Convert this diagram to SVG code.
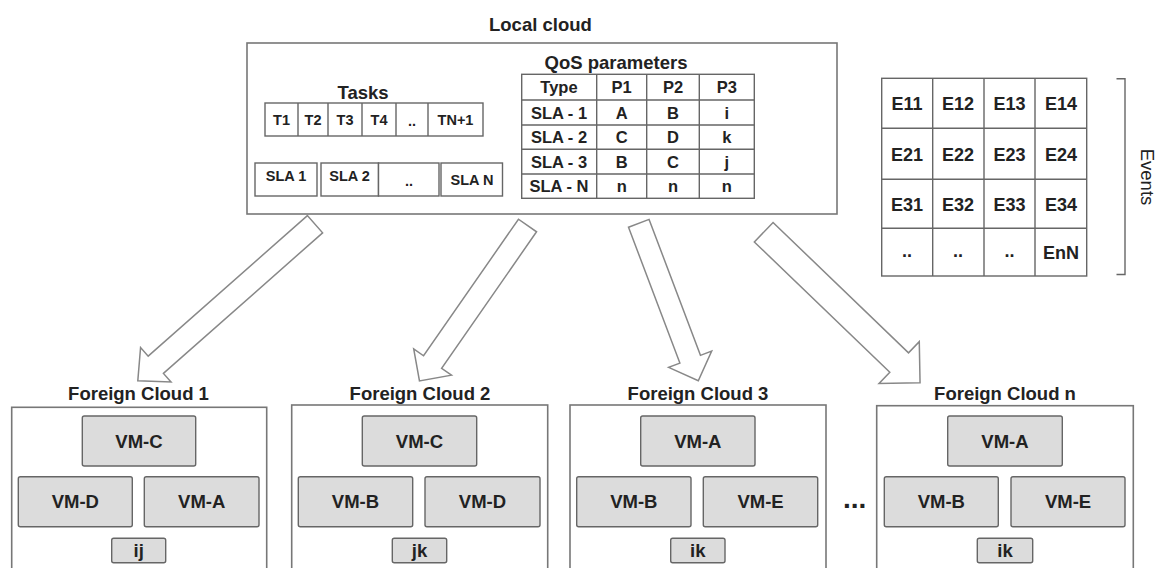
<svg xmlns="http://www.w3.org/2000/svg" width="1163" height="568" viewBox="0 0 1163 568">
<style>
text{font-family:"Liberation Sans",Arial,sans-serif;font-weight:bold;fill:#222;text-anchor:middle}
.t{font-size:18.5px}
.sm{font-size:14.5px}
.tb{font-size:16.5px}
.ev{font-size:18px}
.box{fill:#fff;stroke:#777;stroke-width:1.6}
.cell{fill:#fff;stroke:#666;stroke-width:1.4}
.vm{fill:#dcdcdc;stroke:#666;stroke-width:1.4}
.ln{stroke:#666;stroke-width:1.4;fill:none}
.arr{fill:#fff;stroke:#888;stroke-width:1.5;stroke-linejoin:miter}
</style>
<rect width="1163" height="568" fill="#fff"/>

<g id="local-cloud">
<text class="t" x="489" y="31" style="text-anchor:start">Local cloud</text>
<rect class="box" x="247" y="43" width="590" height="171"/>
</g>

<g id="tasks">
<text class="t" x="363" y="99">Tasks</text>
<rect class="cell" x="265" y="103" width="218" height="33"/>
<path class="ln" d="M298 103V136M328 103V136M362 103V136M396 103V136M428 103V136"/>
<text class="sm" x="281.5" y="125">T1</text>
<text class="sm" x="313" y="125">T2</text>
<text class="sm" x="345" y="125">T3</text>
<text class="sm" x="379" y="125">T4</text>
<text class="sm" x="412" y="126">..</text>
<text class="sm" x="455.5" y="125">TN+1</text>
</g>

<g id="sla">
<rect class="cell" x="255" y="163" width="62" height="33"/>
<rect class="cell" x="321" y="163" width="57.5" height="33"/>
<rect class="cell" x="378.5" y="163" width="60.5" height="33"/>
<rect class="cell" x="441" y="163" width="61.5" height="33"/>
<text class="sm" x="286" y="181">SLA 1</text>
<text class="sm" x="349.5" y="181">SLA 2</text>
<text class="sm" x="409" y="186">..</text>
<text class="sm" x="472" y="185">SLA N</text>
</g>

<g id="qos">
<text class="t" x="616" y="69">QoS parameters</text>
<rect class="cell" x="521.7" y="74.3" width="232.6" height="124"/>
<path class="ln" d="M596.7 74.3V198.3M646.7 74.3V198.3M699.3 74.3V198.3M521.7 100H754.3M521.7 125H754.3M521.7 149.3H754.3M521.7 174H754.3"/>
<text class="tb" x="559" y="93">Type</text>
<text class="tb" x="621.7" y="93">P1</text>
<text class="tb" x="673" y="93">P2</text>
<text class="tb" x="726.8" y="93">P3</text>
<text class="tb" x="559" y="118.5">SLA - 1</text>
<text class="tb" x="621.7" y="118.5">A</text>
<text class="tb" x="673" y="118.5">B</text>
<text class="tb" x="726.8" y="118.5">i</text>
<text class="tb" x="559" y="143">SLA - 2</text>
<text class="tb" x="621.7" y="143">C</text>
<text class="tb" x="673" y="143">D</text>
<text class="tb" x="726.8" y="143">k</text>
<text class="tb" x="559" y="167.5">SLA - 3</text>
<text class="tb" x="621.7" y="167.5">B</text>
<text class="tb" x="673" y="167.5">C</text>
<text class="tb" x="726.8" y="167.5">j</text>
<text class="tb" x="559" y="192">SLA - N</text>
<text class="tb" x="621.7" y="192">n</text>
<text class="tb" x="673" y="192">n</text>
<text class="tb" x="726.8" y="192">n</text>
</g>

<g id="events">
<rect class="cell" x="881.7" y="78.3" width="205" height="197.7"/>
<path class="ln" d="M932.7 78.3V276M984 78.3V276M1035 78.3V276M881.7 128.3H1086.7M881.7 179.3H1086.7M881.7 228.3H1086.7"/>
<text class="ev" x="907" y="110">E11</text>
<text class="ev" x="958" y="110">E12</text>
<text class="ev" x="1009.5" y="110">E13</text>
<text class="ev" x="1061" y="110">E14</text>
<text class="ev" x="907" y="160.5">E21</text>
<text class="ev" x="958" y="160.5">E22</text>
<text class="ev" x="1009.5" y="160.5">E23</text>
<text class="ev" x="1061" y="160.5">E24</text>
<text class="ev" x="907" y="210.5">E31</text>
<text class="ev" x="958" y="210.5">E32</text>
<text class="ev" x="1009.5" y="210.5">E33</text>
<text class="ev" x="1061" y="210.5">E34</text>
<text class="ev" x="907" y="257">..</text>
<text class="ev" x="958" y="257">..</text>
<text class="ev" x="1009.5" y="257">..</text>
<text class="ev" x="1061" y="258.5">EnN</text>
<path class="ln" d="M1116.5 78.8H1125V274.5H1116.5"/>
<text x="0" y="0" transform="translate(1140.5 177) rotate(90)" style="font-size:18.5px;font-weight:normal">Events</text>
</g>

<g id="connectors">
<path class="arr" transform="translate(315 224.2) rotate(138.55)" d="M0 -11.5H212.4V-23L236.4 0L212.4 23V11.5H0Z"/>
<path class="arr" transform="translate(527.5 225.5) rotate(124.8)" d="M0 -11H166.3V-23L189.3 0L166.3 23V11H0Z"/>
<path class="arr" transform="translate(638.8 223.3) rotate(69.3)" d="M0 -11H145.3V-23L168.3 0L145.3 23V11H0Z"/>
<path class="arr" transform="translate(763.7 232.2) rotate(43.9)" d="M0 -13.5H188V-29L217 0L188 29V13.5H0Z"/>
</g>

<g id="foreign-cloud-1">
<text class="t" x="138.5" y="400">Foreign Cloud 1</text>
<rect class="box" x="11.7" y="407.3" width="255" height="175"/>
<rect class="vm" x="82.3" y="416" width="113.4" height="50" rx="2"/>
<rect class="vm" x="18.3" y="476.7" width="114" height="50" rx="2"/>
<rect class="vm" x="144.3" y="476.7" width="114.7" height="50" rx="2"/>
<rect class="vm" x="111.7" y="538.3" width="54" height="24.4" rx="2"/>
<text class="t" x="139" y="447.5">VM-C</text>
<text class="t" x="75.3" y="508.3">VM-D</text>
<text class="t" x="201.7" y="508.3">VM-A</text>
<text class="t" x="138.7" y="557">ij</text>
</g>

<g id="foreign-cloud-2">
<text class="t" x="420" y="400">Foreign Cloud 2</text>
<rect class="box" x="291.7" y="405" width="256" height="175"/>
<rect class="vm" x="362.3" y="416" width="114.4" height="50" rx="2"/>
<rect class="vm" x="298.3" y="476.7" width="114.4" height="50" rx="2"/>
<rect class="vm" x="425" y="476.7" width="115" height="50" rx="2"/>
<rect class="vm" x="392.3" y="538.3" width="54.4" height="24.4" rx="2"/>
<text class="t" x="419.5" y="447.5">VM-C</text>
<text class="t" x="355.5" y="508.3">VM-B</text>
<text class="t" x="482.5" y="508.3">VM-D</text>
<text class="t" x="419.5" y="557">jk</text>
</g>

<g id="foreign-cloud-3">
<text class="t" x="698" y="400">Foreign Cloud 3</text>
<rect class="box" x="570" y="405" width="256" height="175"/>
<rect class="vm" x="640.7" y="416" width="114.3" height="50" rx="2"/>
<rect class="vm" x="576.7" y="476.7" width="114.3" height="50" rx="2"/>
<rect class="vm" x="703.3" y="476.7" width="114.4" height="50" rx="2"/>
<rect class="vm" x="670.7" y="538.3" width="54.3" height="24.4" rx="2"/>
<text class="t" x="697.8" y="447.5">VM-A</text>
<text class="t" x="633.8" y="508.3">VM-B</text>
<text class="t" x="760.5" y="508.3">VM-E</text>
<text class="t" x="697.8" y="557">ik</text>
</g>

<g id="ellipsis">
<text x="843" y="508" style="font-size:28px;text-anchor:start">...</text>
</g>

<g id="foreign-cloud-n">
<text class="t" x="1005" y="400">Foreign Cloud n</text>
<rect class="box" x="876.7" y="405.7" width="256.6" height="175"/>
<rect class="vm" x="947.7" y="416" width="114.6" height="50" rx="2"/>
<rect class="vm" x="884.3" y="476.7" width="114" height="50" rx="2"/>
<rect class="vm" x="1011" y="476.7" width="114" height="50" rx="2"/>
<rect class="vm" x="977.3" y="538.3" width="55.4" height="24.4" rx="2"/>
<text class="t" x="1005" y="447.5">VM-A</text>
<text class="t" x="941.3" y="508.3">VM-B</text>
<text class="t" x="1068" y="508.3">VM-E</text>
<text class="t" x="1005" y="557">ik</text>
</g>
</svg>
